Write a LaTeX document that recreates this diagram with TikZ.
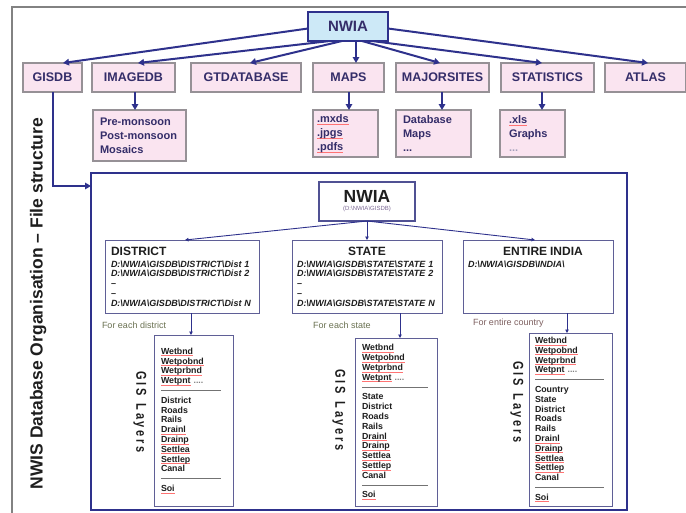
\documentclass[tikz,border=0pt]{standalone}
\usepackage{fontspec}
\setmainfont{Liberation Sans}
\newfontfamily\spacedfont[LetterSpace=25]{Liberation Sans}
\usepackage{graphicx}
\usetikzlibrary{arrows.meta}
\definecolor{navy}{RGB}{46,49,140}
\definecolor{pinkfill}{RGB}{250,228,240}
\definecolor{pinkedge}{RGB}{150,145,150}
\definecolor{topfill}{RGB}{205,233,247}
\definecolor{labcol}{RGB}{52,45,105}
\definecolor{framegray}{RGB}{130,130,130}
\definecolor{notecol}{RGB}{105,112,80}
\definecolor{notecolb}{RGB}{125,95,95}
\definecolor{boxedge}{RGB}{95,95,150}
\definecolor{subcol}{RGB}{125,105,150}
\definecolor{inktext}{RGB}{30,30,30}
\newcommand\bs{\textbackslash}
\newcommand\squig[2][inktext]{\leavevmode\setbox0\hbox{#2}\rlap{\textcolor{red!55}{\rule[-1.7pt]{\wd0}{0.5pt}}}\textcolor{#1}{\box0}}
\newcommand\dashsep[1]{\makebox[#1][l]{\color{black!55}\leaders\hbox to 3pt{\hss\rule[2.6pt]{2.1pt}{0.7pt}\hss}\hskip #1}}
\newcommand\wetlines{\squig{Wetbnd}\\\squig{Wetpobnd}\\\squig{Wetprbnd}\\\squig{Wetpnt} {\color{black!50}....}}
\newcommand\commonlines[1]{District\\Roads\\Rails\\\squig{Drainl}\\\squig{Drainp}\\\squig{Settlea}\\\squig{Settlep}\\Canal\\\dashsep{#1}\\\squig{Soi}}
\begin{document}
\begin{tikzpicture}[x=1pt,y=-1pt,
 every node/.style={inner sep=0pt,outer sep=0pt},
 topbox/.style={draw=navy,line width=2pt,fill=topfill,text=labcol,font=\bfseries\fontsize{15}{18}\selectfont},
 catbox/.style={draw=pinkedge,line width=1.2pt,fill=pinkfill,text=labcol,minimum height=29pt,font=\bfseries\fontsize{12.5}{15}\selectfont},
 subbox/.style={draw=pinkedge,line width=1.2pt,fill=pinkfill,text=labcol,anchor=north west,align=left,font=\bfseries\fontsize{11}{14}\selectfont},
 arr/.style={draw=navy,line width=2pt,-{Triangle[length=6pt,width=6.5pt]}},
 inarr/.style={draw=navy,line width=0.9pt,-{Triangle[length=3.5pt,width=3.5pt]}},
 pathbox/.style={draw=boxedge,line width=1pt,fill=white,anchor=north west,align=left,minimum height=73pt,text=inktext,font=\bfseries\itshape\fontsize{9}{9.8}\selectfont},
 note/.style={anchor=west,text=notecol,font=\fontsize{9}{10}\selectfont},
 layerbox/.style={draw=boxedge,line width=1pt,fill=white,anchor=north west,align=left,text=inktext,font=\bfseries\fontsize{8.8}{9.8}\selectfont},
 gislab/.style={rotate=-90,text=inktext,font=\spacedfont\bfseries\fontsize{11}{12}\selectfont}
]
\useasboundingbox (0,0) rectangle (686,512);
% outer frame
\draw[framegray,line width=1.2pt] (12,514) -- (12,7) -- (688,7);
% title
\node[rotate=90,anchor=base,text=inktext,font=\bfseries\fontsize{17.5}{20}\selectfont] (title) at (42.5,303.5) {NWIS Database Organisation – File structure};
% top level
\node[topbox,minimum width=80pt,minimum height=29pt] (top) at (348,26.5) {NWIA};
\node[catbox,minimum width=59pt] (gisdb) at (52.5,77.5) {GISDB};
\node[catbox,minimum width=83pt] (imagedb) at (133.5,77.5) {IMAGEDB};
\node[catbox,minimum width=110pt] (gtdb) at (246,77.5) {GTDATABASE};
\node[catbox,minimum width=71pt] (maps) at (348.5,77.5) {MAPS};
\node[catbox,minimum width=93pt] (sites) at (442.5,77.5) {MAJORSITES};
\node[catbox,minimum width=93pt] (stats) at (547.5,77.5) {STATISTICS};
\node[catbox,minimum width=81pt] (atlas) at (645.5,77.5) {ATLAS};
% sub boxes
\node[subbox,text width=79pt,inner xsep=7pt,minimum height=51pt] (imgsub) at (93,110) {Pre-monsoon\\Post-monsoon\\Mosaics};
\node[subbox,text width=57pt,inner xsep=4pt,minimum height=47pt] (mapsub) at (313,110) {\squig[labcol]{.mxds}\\\squig[labcol]{.jpgs}\\\squig[labcol]{.pdfs}};
\node[subbox,text width=61pt,inner xsep=7pt,minimum height=47pt] (sitesub) at (396,110) {Database\\Maps\\...};
\node[subbox,text width=47pt,inner xsep=9pt,minimum height=47pt] (statsub) at (500,110) {\squig[labcol]{.xls}\\Graphs\\{\color{labcol!45}...}};
% top arrows
\draw[arr] ([yshift=-2pt]top.west) -- ([xshift=10.5pt]gisdb.north);
\draw[arr] ([xshift=22pt]top.south west) -- ([xshift=4.5pt]imagedb.north);
\draw[arr] ([xshift=34pt]top.south west) -- ([xshift=4pt]gtdb.north);
\draw[arr] ([xshift=48pt]top.south west) -- ([xshift=48pt]top.south west |- maps.north);
\draw[arr] ([xshift=54pt]top.south west) -- ([xshift=-2.5pt]sites.north);
\draw[arr] ([xshift=64pt]top.south west) -- ([xshift=-5.5pt]stats.north);
\draw[arr] ([yshift=-2pt]top.east) -- ([xshift=2.5pt]atlas.north);
\draw[arr] ([xshift=1.5pt]imagedb.south) -- ([xshift=1.5pt]imagedb.south |- imgsub.north);
\draw[arr] ([xshift=0.5pt]maps.south) -- ([xshift=0.5pt]maps.south |- mapsub.north);
\draw[arr] ([xshift=-0.5pt]sites.south) -- ([xshift=-0.5pt]sites.south |- sitesub.north);
\draw[arr] ([xshift=-5.5pt]stats.south) -- ([xshift=-5.5pt]stats.south |- statsub.north);
% inner frame
\node[draw=navy,line width=2pt,minimum width=536pt,minimum height=337pt,anchor=north west] (inner) at (91,173) {};
\draw[arr] (gisdb.south) |- ([yshift=-13pt]inner.north west);
\node[draw=boxedge!70!navy,line width=1.6pt,fill=white,minimum width=96pt,minimum height=39pt,align=center,text=inktext,font=\bfseries\fontsize{17.5}{18}\selectfont] (innwia) at (367,201.5) {NWIA\\[-10pt]{\mdseries\fontsize{6}{7}\selectfont\color{subcol}(D:\bs NWIA\bs GISDB)}};
\node[pathbox,text width=142pt,inner xsep=6pt] (district) at (105,240) {{\upshape\fontsize{12}{12}\selectfont DISTRICT}\\[2.2pt]D:\bs NWIA\bs GISDB\bs DISTRICT\bs Dist 1\\D:\bs NWIA\bs GISDB\bs DISTRICT\bs Dist 2\\–\\–\\D:\bs NWIA\bs GISDB\bs DISTRICT\bs Dist N};
\node[pathbox,text width=140pt,inner xsep=5pt] (state) at (292,240) {\makebox[\linewidth]{\upshape\fontsize{12}{12}\selectfont STATE}\\[2.2pt]D:\bs NWIA\bs GISDB\bs STATE\bs STATE 1\\D:\bs NWIA\bs GISDB\bs STATE\bs STATE 2\\–\\–\\D:\bs NWIA\bs GISDB\bs STATE\bs STATE N};
\node[pathbox,text width=140pt,inner xsep=5pt] (india) at (463,240) {\makebox[\linewidth]{\hspace{10pt}\upshape\fontsize{12}{12}\selectfont ENTIRE INDIA}\\[2.2pt]D:\bs NWIA\bs GISDB\bs INDIA\bs\\~\\~\\~\\~};
\draw[inarr] (innwia.south) -- ([xshift=3pt]district.north);
\draw[inarr] (innwia.south) -- (state.north);
\draw[inarr] (innwia.south) -- ([xshift=-3pt]india.north);
% notes
\node[note] (ndist) at (102,325) {For each district};
\node[note] (nstate) at (313,325) {For each state};
\node[note,text=notecolb] (nindia) at (473,323) {For entire country};
% layer boxes
\node[layerbox,text width=65pt,inner xsep=7pt,minimum height=171pt] (dlay) at (154,335) {\wetlines\\\dashsep{60pt}\\\commonlines{60pt}};
\node[layerbox,text width=68pt,inner xsep=7pt,minimum height=168pt] (slay) at (355,338) {\wetlines\\\dashsep{68pt}\\State\\\commonlines{68pt}};
\node[layerbox,text width=71pt,inner xsep=6pt,minimum height=173pt] (ilay) at (529,333) {\wetlines\\\dashsep{70pt}\\Country\\State\\\commonlines{70pt}};
\draw[inarr] ([xshift=9pt]district.south) -- ([xshift=9pt]district.south |- dlay.north);
\draw[inarr] ([xshift=33pt]state.south) -- ([xshift=33pt]state.south |- slay.north);
\draw[inarr] ([xshift=29pt]india.south) -- ([xshift=29pt]india.south |- ilay.north);
% GIS layer labels
\node[gislab] (dgis) at (140,412) {\scalebox{1}[1.3]{GIS\hspace{8pt}Layers}};
\node[gislab] (sgis) at (339,410) {\scalebox{1}[1.3]{GIS\hspace{8pt}Layers}};
\node[gislab] (igis) at (517,402) {\scalebox{1}[1.3]{GIS\hspace{8pt}Layers}};
\end{tikzpicture}
\end{document}
